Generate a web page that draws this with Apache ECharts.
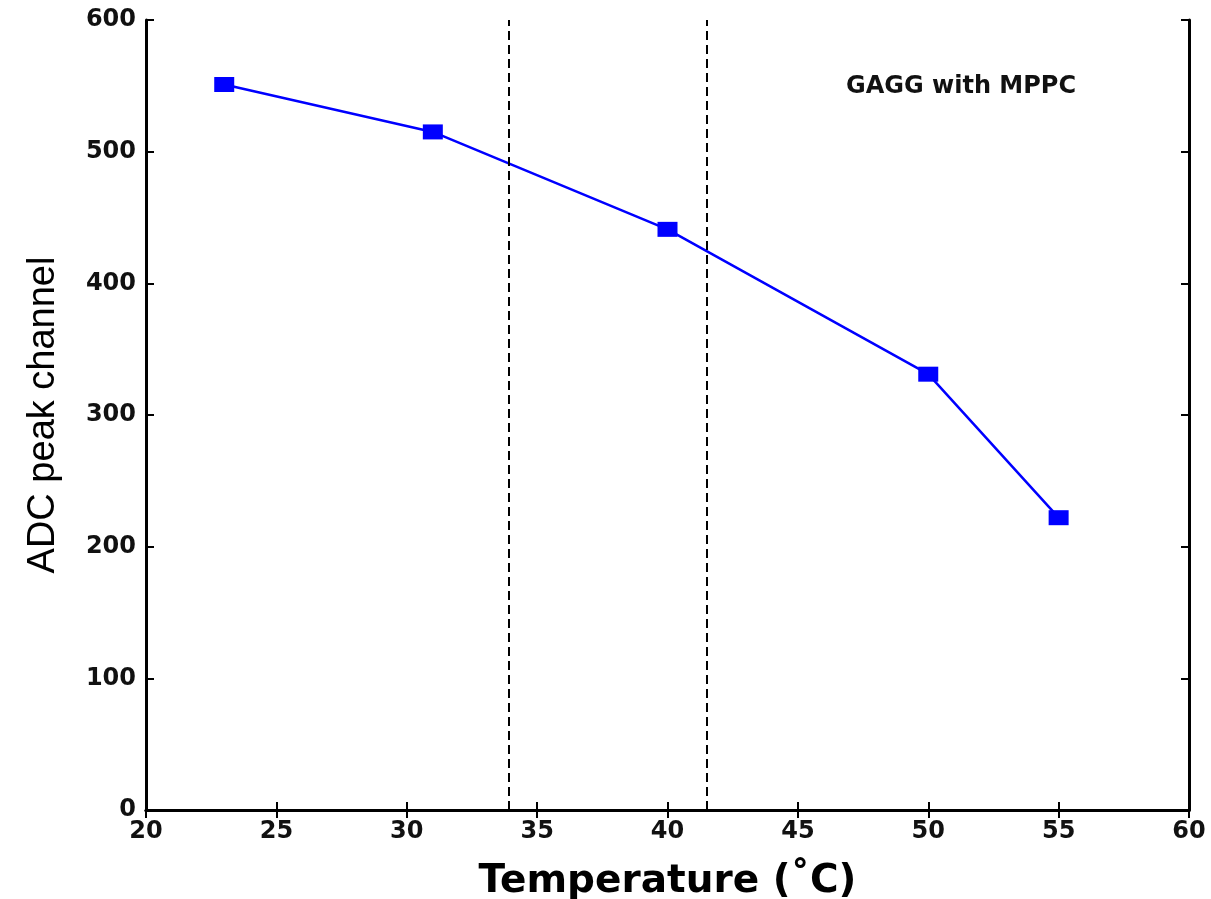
<!DOCTYPE html>
<html lang="en">
<head>
    <meta charset="UTF-8">
    <title>ADC peak channel vs temperature</title>
    <script type="text/javascript" src="https://cdn.jsdelivr.net/npm/echarts@6/dist/echarts.min.js"></script>
</head>
<body style="margin:0;background:#fff;">
<div id="main" style="width: 1211px;height:899px;"></div>

<script type="text/javascript">
    // data
    var temps = [23, 31, 40, 50, 55];
    var peaks = [551, 515, 441, 331, 222];
    var guideLines = [33.9, 41.5];   // dashed vertical markers
    var noteText = 'GAGG with MPPC';

    var font = 'DejaVu Sans, Liberation Sans, sans-serif';
    var chartDom = document.getElementById('main');
    var myChart = echarts.init(chartDom);

    var points = temps.map(function (t, i) { return [t, peaks[i]]; });

    var axisLine = {show: true, lineStyle: {color: '#000', width: 3}};
    var tick = {show: true, inside: true, length: 8, lineStyle: {color: '#000', width: 2}};

    var option = {
        animation: false,
        backgroundColor: '#fff',
        title: {
            text: noteText,
            right: 130,
            top: 70,
            textStyle: {fontFamily: font, fontSize: 24, fontWeight: 'bold', color: '#111'}
        },
        grid: {left: 146, right: 22, top: 20, bottom: 89, outerBoundsMode: 'none', containLabel: false},
        xAxis: [
            {
                type: 'value', min: 20, max: 60, interval: 5, position: 'bottom',
                name: 'Temperature (˚C)', nameLocation: 'middle', nameGap: 52,
                nameTextStyle: {fontFamily: font, fontSize: 39, fontWeight: 'bold', color: '#000'},
                axisLine: axisLine, axisTick: tick, splitLine: {show: false},
                axisLabel: {fontFamily: font, fontSize: 24, fontWeight: 'bold', color: '#111', margin: 10}
            },
            {
                type: 'value', min: 20, max: 60, interval: 5, position: 'top',
                axisLine: axisLine, axisTick: tick, splitLine: {show: false},
                axisLabel: {show: false}
            }
        ],
        yAxis: [
            {
                type: 'value', min: 0, max: 600, interval: 100, position: 'left',
                name: 'ADC peak channel', nameLocation: 'middle', nameGap: 83,
                nameTextStyle: {fontFamily: 'Liberation Sans, sans-serif', fontSize: 38, color: '#000'},
                axisLine: axisLine, axisTick: tick, splitLine: {show: false},
                axisLabel: {fontFamily: font, fontSize: 24, fontWeight: 'bold', color: '#111', margin: 10}
            },
            {
                type: 'value', min: 0, max: 600, interval: 100, position: 'right',
                axisLine: axisLine, axisTick: tick, splitLine: {show: false},
                axisLabel: {show: false}
            }
        ],
        series: [
            {
                type: 'line',
                data: points,
                symbol: 'rect',
                symbolSize: [20, 15],
                itemStyle: {color: '#0000ff'},
                lineStyle: {color: '#0000ff', width: 2.5},
                markLine: {
                    silent: true,
                    symbol: ['none', 'none'],
                    label: {show: false},
                    lineStyle: {color: '#000', width: 2, type: [9, 5]},
                    data: guideLines.map(function (v) { return {xAxis: v}; })
                }
            }
        ]
    };

    option && myChart.setOption(option);
</script>
</body>
</html>
